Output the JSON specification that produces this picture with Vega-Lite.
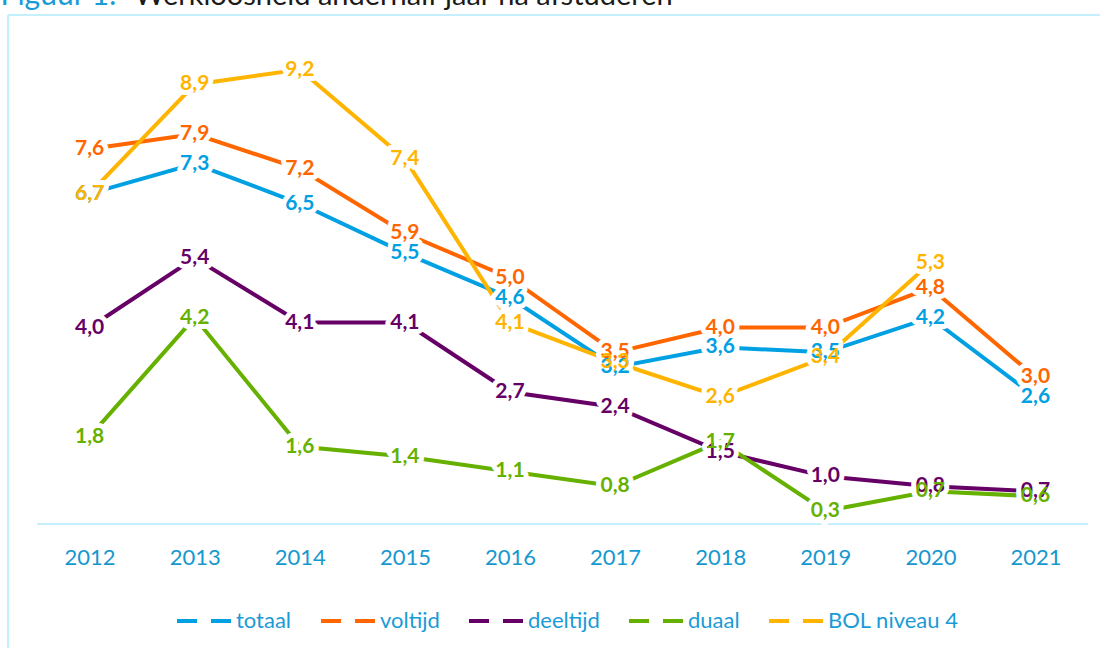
{
  "$schema": "https://vega.github.io/schema/vega-lite/v6.json",
  "autosize": {"type": "none"},
  "padding": {"left": 8, "top": 15, "right": 0, "bottom": 0},
  "width": 1092,
  "height": 633,
  "background": "white",
  "config": {
    "view": {"stroke": null},
    "locale": {"number": {"decimal": ",", "thousands": ".", "grouping": [3], "currency": ["€", ""]}},
    "font": "Lato"
  },
  "data": {"values": [
    {"jaar": 2012, "reeks": "totaal", "waarde": 6.7},
    {"jaar": 2013, "reeks": "totaal", "waarde": 7.3},
    {"jaar": 2014, "reeks": "totaal", "waarde": 6.5},
    {"jaar": 2015, "reeks": "totaal", "waarde": 5.5},
    {"jaar": 2016, "reeks": "totaal", "waarde": 4.6},
    {"jaar": 2017, "reeks": "totaal", "waarde": 3.2},
    {"jaar": 2018, "reeks": "totaal", "waarde": 3.6},
    {"jaar": 2019, "reeks": "totaal", "waarde": 3.5},
    {"jaar": 2020, "reeks": "totaal", "waarde": 4.2},
    {"jaar": 2021, "reeks": "totaal", "waarde": 2.6},
    {"jaar": 2012, "reeks": "voltijd", "waarde": 7.6},
    {"jaar": 2013, "reeks": "voltijd", "waarde": 7.9},
    {"jaar": 2014, "reeks": "voltijd", "waarde": 7.2},
    {"jaar": 2015, "reeks": "voltijd", "waarde": 5.9},
    {"jaar": 2016, "reeks": "voltijd", "waarde": 5.0},
    {"jaar": 2017, "reeks": "voltijd", "waarde": 3.5},
    {"jaar": 2018, "reeks": "voltijd", "waarde": 4.0},
    {"jaar": 2019, "reeks": "voltijd", "waarde": 4.0},
    {"jaar": 2020, "reeks": "voltijd", "waarde": 4.8},
    {"jaar": 2021, "reeks": "voltijd", "waarde": 3.0},
    {"jaar": 2012, "reeks": "deeltijd", "waarde": 4.0},
    {"jaar": 2013, "reeks": "deeltijd", "waarde": 5.4},
    {"jaar": 2014, "reeks": "deeltijd", "waarde": 4.1},
    {"jaar": 2015, "reeks": "deeltijd", "waarde": 4.1},
    {"jaar": 2016, "reeks": "deeltijd", "waarde": 2.7},
    {"jaar": 2017, "reeks": "deeltijd", "waarde": 2.4},
    {"jaar": 2018, "reeks": "deeltijd", "waarde": 1.5},
    {"jaar": 2019, "reeks": "deeltijd", "waarde": 1.0},
    {"jaar": 2020, "reeks": "deeltijd", "waarde": 0.8},
    {"jaar": 2021, "reeks": "deeltijd", "waarde": 0.7},
    {"jaar": 2012, "reeks": "duaal", "waarde": 1.8},
    {"jaar": 2013, "reeks": "duaal", "waarde": 4.2},
    {"jaar": 2014, "reeks": "duaal", "waarde": 1.6},
    {"jaar": 2015, "reeks": "duaal", "waarde": 1.4},
    {"jaar": 2016, "reeks": "duaal", "waarde": 1.1},
    {"jaar": 2017, "reeks": "duaal", "waarde": 0.8},
    {"jaar": 2018, "reeks": "duaal", "waarde": 1.7},
    {"jaar": 2019, "reeks": "duaal", "waarde": 0.3},
    {"jaar": 2020, "reeks": "duaal", "waarde": 0.7},
    {"jaar": 2021, "reeks": "duaal", "waarde": 0.6},
    {"jaar": 2012, "reeks": "BOL niveau 4", "waarde": 6.7},
    {"jaar": 2013, "reeks": "BOL niveau 4", "waarde": 8.9},
    {"jaar": 2014, "reeks": "BOL niveau 4", "waarde": 9.2},
    {"jaar": 2015, "reeks": "BOL niveau 4", "waarde": 7.4},
    {"jaar": 2016, "reeks": "BOL niveau 4", "waarde": 4.1},
    {"jaar": 2017, "reeks": "BOL niveau 4", "waarde": 3.3},
    {"jaar": 2018, "reeks": "BOL niveau 4", "waarde": 2.6},
    {"jaar": 2019, "reeks": "BOL niveau 4", "waarde": 3.4},
    {"jaar": 2020, "reeks": "BOL niveau 4", "waarde": 5.3}
  ]},
  "layer": [
    {
      "data": {"values": [{"k": 1}]},
      "mark": {"type": "rule", "color": "#c5effc", "strokeWidth": 2},
      "encoding": {
        "x": {"datum": 2011.2236, "type": "quantitative", "scale": {"domain": [2011.2236, 2021.6137], "nice": false, "zero": false}},
        "y": {"datum": 10.3, "type": "quantitative", "scale": {"domain": [-2.46, 10.3], "nice": false, "zero": false}},
        "y2": {"datum": -2.46}
      }
    },
    {
      "data": {"values": [{"k": 1}]},
      "mark": {"type": "rule", "color": "#c5effc", "strokeWidth": 2},
      "encoding": {
        "x": {"datum": 2011.2236, "type": "quantitative"},
        "x2": {"datum": 2021.6137},
        "y": {"datum": 10.3, "type": "quantitative"}
      }
    },
    {
      "data": {"values": [{"k": 1}]},
      "mark": {"type": "rule", "color": "#c5effc", "strokeWidth": 2},
      "encoding": {
        "x": {"datum": 2011.5, "type": "quantitative"},
        "x2": {"datum": 2021.5},
        "y": {"datum": 0.04, "type": "quantitative"}
      }
    },
    {
      "encoding": {
        "x": {
          "field": "jaar", "type": "quantitative",
          "scale": {"domain": [2011.2236, 2021.6137], "nice": false, "zero": false},
          "axis": {
            "values": [2012, 2013, 2014, 2015, 2016, 2017, 2018, 2019, 2020, 2021],
            "format": "d",
            "offset": -124,
            "domain": false, "ticks": false, "grid": false,
            "labelPadding": 23, "labelFontSize": 22, "labelColor": "#1698cf", "labelFont": "Lato",
            "title": "Werkloosheid anderhalf jaar na afstuderen",
            "titleX": 126, "titleY": -520,
            "titleAlign": "left", "titleBaseline": "alphabetic",
            "titleFontSize": 29, "titleFontWeight": "normal", "titleColor": "#1a1a1a", "titleFont": "Lato"
          }
        },
        "y": {
          "field": "waarde", "type": "quantitative",
          "scale": {"domain": [-2.46, 10.3], "nice": false, "zero": false},
          "axis": {
            "labels": false, "ticks": false, "domain": false, "grid": false,
            "title": "Figuur 1:",
            "titleAngle": 0, "titleX": -8, "titleY": -11,
            "titleAlign": "left", "titleBaseline": "alphabetic",
            "titleFontSize": 30, "titleFontWeight": "normal", "titleColor": "#1a9bd7", "titleFont": "Lato"
          }
        }
      },
      "layer": [
        {
          "mark": {"type": "line", "strokeWidth": 4, "strokeCap": "butt"},
          "encoding": {
            "color": {
              "field": "reeks", "type": "nominal",
              "scale": {
                "domain": ["totaal", "voltijd", "deeltijd", "duaal", "BOL niveau 4"],
                "range": ["#00a0e3", "#ff6600", "#660066", "#66b100", "#ffb400"]
              },
              "legend": {
                "orient": "none", "legendX": 167, "legendY": 577,
                "direction": "horizontal", "title": null,
                "symbolType": "stroke", "symbolSize": 2916, "symbolStrokeWidth": 4,
                "symbolDash": [20, 14],
                "labelFontSize": 22, "labelColor": "#1a9bd7", "labelFont": "Lato",
                "columnPadding": 21, "labelOffset": 3, "padding": 0
              }
            }
          }
        },
        {
          "mark": {"type": "text", "fill": "white", "stroke": "white", "strokeWidth": 10, "strokeJoin": "round", "fontSize": 21, "fontWeight": "bold", "font": "Lato"},
          "encoding": {"text": {"field": "waarde", "type": "quantitative", "format": ".1f"}}
        },
        {
          "mark": {"type": "text", "fontSize": 21, "fontWeight": "bold", "font": "Lato"},
          "encoding": {
            "text": {"field": "waarde", "type": "quantitative", "format": ".1f"},
            "color": {"field": "reeks", "type": "nominal"}
          }
        }
      ]
    }
  ]
}
